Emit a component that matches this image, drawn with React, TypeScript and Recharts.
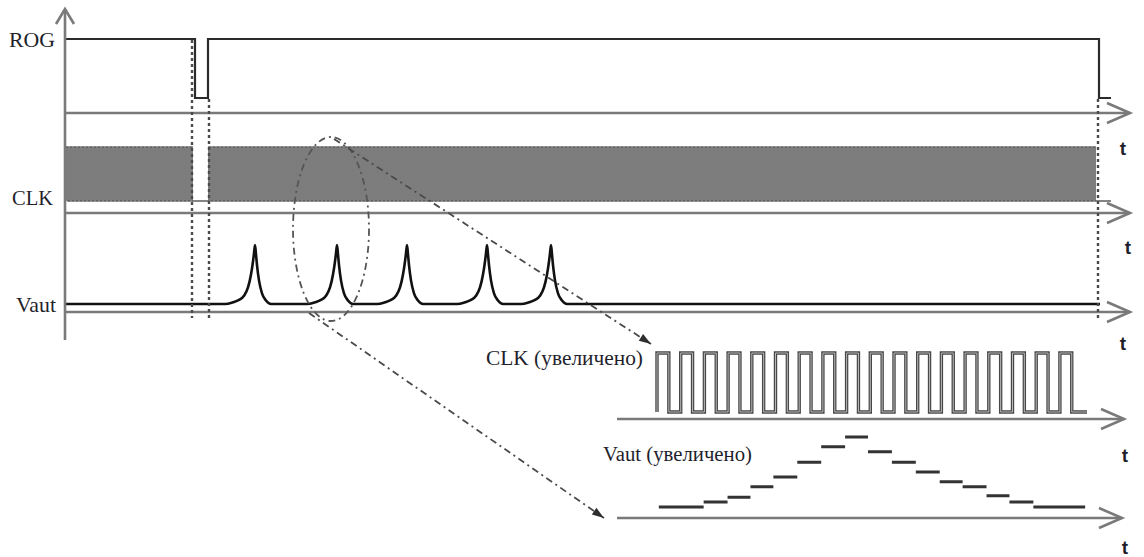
import React from "react";
import { LineChart, Line, XAxis, YAxis } from "recharts";

const W = 1144;
const H = 557;

// ---- main diagram, time in arbitrary units along the long t axes ----
const MAIN_SPAN = 1064;
const rogEdges = [0, 129, 142, 1033, 1045];
const rogLevels = [1, 0, 1, 0];
const clkBurstFrom = [0, 143];
const clkBurstTo = [128, 1029];
const CLK_PERIOD = 4;
const CLK_END = 1045;
const vautPeaks = [189, 271, 341, 421, 485];
const peakOffsets = [-30, -22, -16, -11, -7, -4, -2, -1, 0, 1, 2, 4, 7, 11, 16];
const peakLevels = [0, 0.03, 0.07, 0.14, 0.28, 0.5, 0.72, 0.86, 1, 0.84, 0.66, 0.4, 0.18, 0.06, 0];
const VAUT_END = 1034;
const guideTimes = [126, 143, 1032];

// ---- zoomed panels ----
const ZOOM_SPAN = 507;
const zClkFrom = 40;
const zClkPeriod = 23.7;
const zClkPulses = 18;
const zClkEnd = 470;
const zStepEdges = [42, 87, 111, 134, 157, 181, 205, 229, 252, 276, 300, 324, 347, 371, 394, 418, 470];
const zStepLevels = [0, 0.07, 0.14, 0.29, 0.43, 0.64, 0.86, 1, 0.79, 0.64, 0.5, 0.36, 0.29, 0.16, 0.07, 0];

type P = { t: number; v: number | null };

function holdSteps(edges: number[], levels: number[]): P[] {
  const out: P[] = [];
  levels.forEach((lv, i) => out.push({ t: edges[i], v: lv }, { t: edges[i + 1], v: lv }));
  return out;
}

function clockTrain(from: number[], to: number[], period: number, end: number): P[] {
  const out: P[] = [];
  from.forEach((a, i) => {
    for (let t = a; t + period / 2 <= to[i]; t += period) {
      out.push({ t, v: 0 }, { t, v: 1 }, { t: t + period / 2, v: 1 }, { t: t + period / 2, v: 0 });
    }
  });
  out.push({ t: end, v: 0 });
  return out;
}

const rogData = holdSteps(rogEdges, rogLevels);
const clkData = clockTrain(clkBurstFrom, clkBurstTo, CLK_PERIOD, CLK_END);
const vautData: P[] = [
  { t: 0, v: 0 },
  ...vautPeaks.flatMap(c => peakOffsets.map((o, i) => ({ t: c + o, v: peakLevels[i] }))),
  { t: VAUT_END, v: 0 },
];
const zClkData = clockTrain(
  [zClkFrom],
  [zClkFrom + zClkPulses * zClkPeriod],
  zClkPeriod,
  zClkEnd,
);
const zVautData: P[] = zStepLevels.flatMap((lv, i) => [
  { t: zStepEdges[i], v: lv },
  { t: zStepEdges[i + 1], v: lv },
  { t: zStepEdges[i + 1], v: null },
]);

const AXIS = "#7a7a7a";
const INK = "#1f1f2c";
const PAD = 6;

interface TraceProps {
  left: number; right: number;
  hi: number; lo: number; axis: number;
  span: number; data: P[];
  curve?: "linear" | "monotone";
  strokes: { color: string; width: number }[];
}

function Trace({ left, right, hi, lo, axis, span, data, curve = "linear", strokes }: TraceProps) {
  const yMin = -(axis - lo) / (lo - hi);
  return (
    <div style={{ position: "absolute", left, top: hi - PAD }}>
      <LineChart
        width={right - left}
        height={axis - hi + 2 * PAD + 1}
        data={data}
        margin={{ top: PAD, right: 0, bottom: PAD, left: 0 }}
      >
        <XAxis
          type="number" dataKey="t" domain={[0, span]} height={1}
          tick={false} tickLine={false}
          axisLine={{ stroke: AXIS, strokeWidth: 2.6, markerEnd: "url(#axisHead)" }}
        />
        <YAxis hide type="number" domain={[yMin, 1]} />
        {strokes.map((s, i) => (
          <Line
            key={i} dataKey="v" type={curve} stroke={s.color} strokeWidth={s.width}
            dot={false} activeDot={false} connectNulls={false} isAnimationActive={false}
          />
        ))}
      </LineChart>
    </div>
  );
}

const mainX = (t: number) => 66 + (t * 1064) / MAIN_SPAN;

export default function App() {
  return (
    <div style={{ position: "fixed", left: 0, top: 0, width: W, height: H, background: "#fff", overflow: "hidden" }}>
      <style>{`.recharts-surface{overflow:visible}`}</style>

      <Trace left={66} right={1130} hi={39} lo={98} axis={113} span={MAIN_SPAN}
        data={rogData} strokes={[{ color: "#2b2b2b", width: 2.2 }]} />
      <Trace left={66} right={1130} hi={147} lo={201} axis={213} span={MAIN_SPAN}
        data={clkData} strokes={[{ color: "#5c5c5c", width: 1.6 }]} />
      <Trace left={66} right={1130} hi={245} lo={304} axis={312} span={MAIN_SPAN}
        data={vautData} curve="monotone" strokes={[{ color: "#111", width: 2.6 }]} />
      <Trace left={617} right={1124} hi={353} lo={412} axis={419} span={ZOOM_SPAN}
        data={zClkData} strokes={[{ color: "#474747", width: 3.4 }, { color: "#b8b8b8", width: 1 }]} />
      <Trace left={617} right={1122} hi={437} lo={507} axis={518} span={ZOOM_SPAN}
        data={zVautData} strokes={[{ color: "#333", width: 3 }]} />

      <svg width={W} height={H} style={{ position: "absolute", left: 0, top: 0, overflow: "visible", pointerEvents: "none" }}>
        <defs>
          <marker id="axisHead" markerUnits="userSpaceOnUse" viewBox="-26 -12 28 24" refX={0} refY={0}
            markerWidth={28} markerHeight={24} orient="auto" style={{ overflow: "visible" }}>
            <path d="M -23 -10 L 0 0 L -23 10" fill="none" stroke={AXIS} strokeWidth={2.6} />
          </marker>
          <marker id="upHead" markerUnits="userSpaceOnUse" viewBox="-18 -12 20 24" refX={0} refY={0}
            markerWidth={20} markerHeight={24} orient="auto" style={{ overflow: "visible" }}>
            <path d="M -15 -9 L 0 0 L -15 9" fill="none" stroke={AXIS} strokeWidth={2.6} />
          </marker>
          <marker id="solidHead" markerUnits="userSpaceOnUse" viewBox="-14 -6 16 12" refX={0} refY={0}
            markerWidth={16} markerHeight={12} orient="auto" style={{ overflow: "visible" }}>
            <path d="M -12 -4 L 0 0 L -12 4 Z" fill="#2e2e2e" />
          </marker>
        </defs>

        <line x1={65} y1={340} x2={65} y2={9} stroke={AXIS} strokeWidth={2.6} markerEnd="url(#upHead)" />

        {guideTimes.map((t, i) => (
          <line key={t} x1={mainX(t)} x2={mainX(t)} y1={i === 0 ? 40 : 99} y2={318}
            stroke="#4a4a4a" strokeWidth={2.4} strokeDasharray="3 3" />
        ))}

        <ellipse cx={331} cy={229} rx={38} ry={92} fill="none" stroke="#555"
          strokeWidth={1.8} strokeDasharray="7 4 2 4" />
        <line x1={334} y1={139} x2={651} y2={344} stroke="#4a4a4a" strokeWidth={1.8}
          strokeDasharray="7 4 2 4" markerEnd="url(#solidHead)" />
        <line x1={309} y1={313} x2={604} y2={518} stroke="#4a4a4a" strokeWidth={1.8}
          strokeDasharray="7 4 2 4" markerEnd="url(#solidHead)" />

        <g fontFamily="'Liberation Serif', 'Times New Roman', serif" fill={INK}>
          <text x={9} y={47} fontSize={21} textLength={46} lengthAdjust="spacingAndGlyphs">ROG</text>
          <text x={12} y={205} fontSize={20} textLength={41} lengthAdjust="spacingAndGlyphs">CLK</text>
          <text x={16} y={312} fontSize={21} textLength={40} lengthAdjust="spacingAndGlyphs">Vaut</text>
          <text x={486} y={365} fontSize={20} textLength={157} lengthAdjust="spacingAndGlyphs">CLK (увеличено)</text>
          <text x={603} y={461} fontSize={20} textLength={149} lengthAdjust="spacingAndGlyphs">Vaut (увеличено)</text>
        </g>
        <g fontFamily="'Liberation Sans', Arial, sans-serif" fontWeight="bold" fontSize={19} fill={INK} textAnchor="middle">
          <text x={1123} y={155}>t</text>
          <text x={1128} y={254}>t</text>
          <text x={1123} y={350}>t</text>
          <text x={1125} y={462}>t</text>
          <text x={1125} y={554}>t</text>
        </g>
      </svg>
    </div>
  );
}
